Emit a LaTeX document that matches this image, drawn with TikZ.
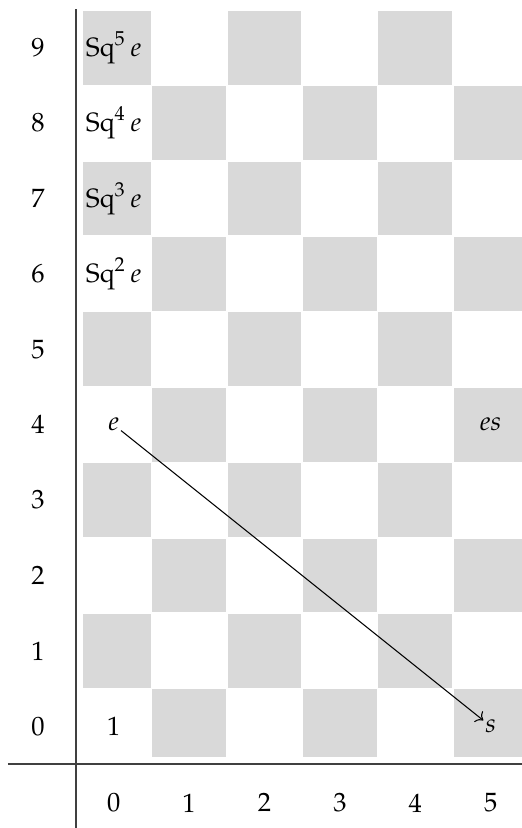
\documentclass[tikz,border=0pt]{standalone}
\usepackage{amsmath}
\usepackage{mathpazo}
\usepackage{tikz}
\usetikzlibrary{arrows.meta, positioning}
\newcommand{\Sq}{\operatorname{Sq}}

\begin{document}
\begin{tikzpicture}[
    every node/.style={inner sep=0.5pt},
    cell/.style={fill=black!15},
    axis/.style={draw=black!75, line width=0.5pt},
    entry/.style={font=\normalsize}
]
\useasboundingbox (-1.008,-0.849) rectangle (5.915,10.133);

% checkerboard
\foreach \x in {0,...,5}
  \foreach \y in {0,...,9} {
    \pgfmathtruncatemacro{\odd}{mod(\x+\y,2)}
    \pgfmathsetmacro{\xa}{\x==0 ? 0.093 : \x+0.01}
    \pgfmathsetmacro{\ya}{\y==0 ? 0.093 : \y+0.01}
    \ifnum\odd=1
      \fill[cell] (\xa,\ya) rectangle (\x+0.99,\y+0.99);
    \fi
  }

% axes
\coordinate (ytop) at (0,10.01);
\coordinate (ybot) at (0,-0.849);
\coordinate (xleft) at (-0.902,0);
\coordinate (xright) at (5.915,0);
\draw[axis] (ytop) -- (ybot);
\draw[axis] (xleft) -- (xright);

% labels
\foreach \y in {0,...,9}
  \node (r\y) at (-0.504,\y+0.5) {$\y$};
\foreach \x in {0,...,5}
  \node (c\x) at (\x+0.5,-0.517) {$\x$};

% entries
\node[entry] (one) at (0.5,0.5) {$1$};
\node[entry] (e) at (0.5,4.5) {$e$};
\node[entry] (es) at (5.5,4.5) {$es$};
\node[entry] (s) at (5.5,0.5) {$s$};
\foreach \k in {2,...,5}
  \node[entry] (sq\k) at (0.5,\k+4.5) {$\Sq^{\k} e$};

\draw[->] (e) -- (s);
\end{tikzpicture}
\end{document}
